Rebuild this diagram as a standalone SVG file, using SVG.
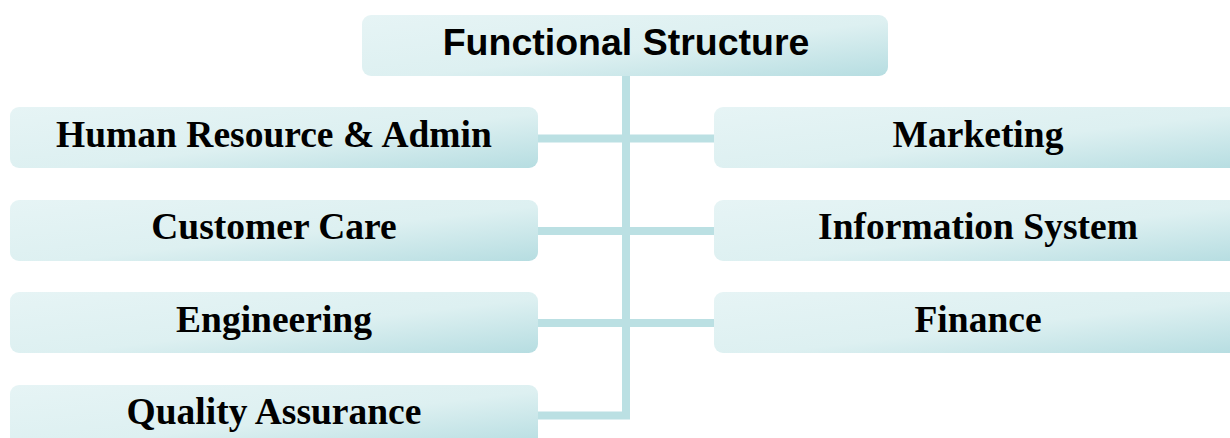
<svg xmlns="http://www.w3.org/2000/svg" width="1230" height="438" viewBox="0 0 1230 438">
  <defs>
    <linearGradient id="boxFill" x1="0" y1="0" x2="1" y2="1">
      <stop offset="0" stop-color="#e6f4f5"/>
      <stop offset="0.55" stop-color="#ddf0f1"/>
      <stop offset="1" stop-color="#b6dde1"/>
    </linearGradient>
  </defs>
  <style>
    .box { fill: url(#boxFill); }
    .link { fill: none; stroke: #bbe0e3; stroke-width: 8; }
    .title { font-family: "Liberation Sans", Arial, sans-serif; font-weight: bold; font-size: 37.5px; fill: #000; text-anchor: middle; }
    .label { font-family: "Liberation Serif", "Times New Roman", serif; font-weight: bold; font-size: 37.5px; fill: #000; text-anchor: middle; }
  </style>

  <g id="connectors">
    <path class="link" d="M626 75 V415.5 H538"/>
    <path class="link" d="M538 138.5 H714"/>
    <path class="link" d="M538 231 H714"/>
    <path class="link" d="M538 323 H714"/>
  </g>

  <g id="functional-structure">
    <rect class="box" x="362" y="15" width="526" height="61" rx="9"/>
    <text class="title" x="626" y="54.5">Functional Structure</text>
  </g>

  <g id="human-resource-admin">
    <rect class="box" x="10" y="107" width="528" height="61" rx="9"/>
    <text class="label" x="274" y="147">Human Resource &amp; Admin</text>
  </g>
  <g id="customer-care">
    <rect class="box" x="10" y="200" width="528" height="61" rx="9"/>
    <text class="label" x="274" y="239">Customer Care</text>
  </g>
  <g id="engineering">
    <rect class="box" x="10" y="292" width="528" height="61" rx="9"/>
    <text class="label" x="274" y="332">Engineering</text>
  </g>
  <g id="quality-assurance">
    <rect class="box" x="10" y="385" width="528" height="61" rx="9"/>
    <text class="label" x="274" y="424">Quality Assurance</text>
  </g>

  <g id="marketing">
    <rect class="box" x="714" y="107" width="528" height="61" rx="9"/>
    <text class="label" x="978" y="147">Marketing</text>
  </g>
  <g id="information-system">
    <rect class="box" x="714" y="200" width="528" height="61" rx="9"/>
    <text class="label" x="978" y="239">Information System</text>
  </g>
  <g id="finance">
    <rect class="box" x="714" y="292" width="528" height="61" rx="9"/>
    <text class="label" x="978" y="332">Finance</text>
  </g>
</svg>
